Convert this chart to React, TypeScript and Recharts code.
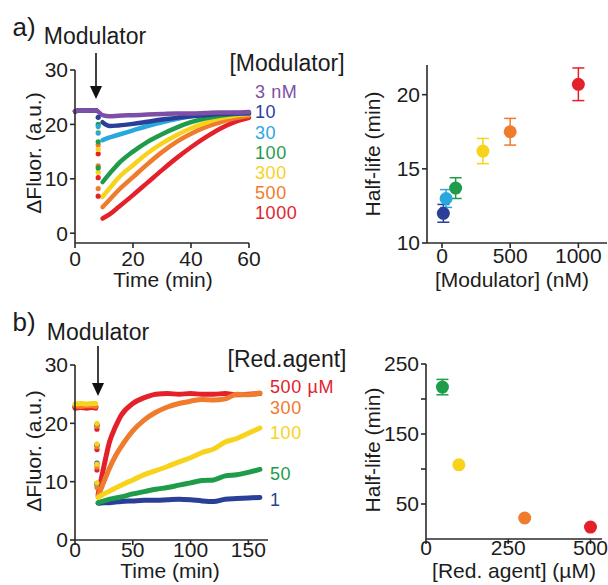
import React from 'react'
import { ComposedChart, ScatterChart, Line, Scatter, XAxis, YAxis, ErrorBar } from 'recharts'

const FONT = '"Liberation Sans", Arial, Helvetica, sans-serif'
const AXIS = '#2a2a2a'
const INK = '#1c1c1c'

const PURPLE = '#7d4fa6'
const NAVY = '#2a3f98'
const SKY = '#29a8e0'
const GREEN = '#1f9c4a'
const YELLOW = '#f7d31c'
const ORANGE = '#ef7b2c'
const RED = '#e4212b'

// ---- a) kinetics, modulator titration ----
const modLabels = ['3 nM', '10', '30', '100', '300', '500', '1000']
const modColors = [PURPLE, NAVY, SKY, GREEN, YELLOW, ORANGE, RED]

const baseTimeA = [0, 2, 4, 6, 7.5]
const baseA = [22.4, 22.6, 22.5, 22.6, 22.5]
const dropTimeA = 8
const recTimeA = [9.5, 12, 15, 20, 25, 30, 35, 40, 45, 50, 55, 60]
const recA3 = [21.7, 21.5, 21.6, 21.7, 21.8, 21.9, 22.0, 22.0, 22.1, 22.2, 22.2, 22.3]
const recA10 = [20.4, 19.7, 19.8, 20.1, 20.5, 20.9, 21.2, 21.5, 21.7, 21.9, 22.0, 22.1]
const recA30 = [17.1, 17.6, 18.1, 18.9, 19.7, 20.4, 21.0, 21.5, 21.8, 22.0, 22.1, 22.1]
const recA100 = [9.4, 11.0, 12.8, 15.0, 16.8, 18.2, 19.4, 20.4, 21.1, 21.6, 21.9, 22.0]
const recA300 = [6.7, 8.3, 10.2, 12.5, 14.7, 16.5, 18.0, 19.3, 20.3, 21.1, 21.6, 21.9]
const recA500 = [4.8, 6.2, 7.9, 10.3, 12.7, 14.9, 16.8, 18.3, 19.5, 20.4, 21.1, 21.6]
const recA1000 = [2.7, 3.5, 4.8, 7.0, 9.3, 11.6, 13.8, 15.8, 17.6, 19.2, 20.4, 21.2]
const dropA10 = [21.3]
const dropA30 = [19.6, 18.4]
const dropA100 = [20.0, 16.8, 12.0]
const dropA300 = [18.6, 15.4, 11.2]
const dropA500 = [16.2, 12.4, 8.2]
const dropA1000 = [14.6, 10.2, 6.8]

// ---- a) half-life vs modulator ----
const hlModConc = [10, 30, 100, 300, 500, 1000]
const hlModValue = [12.0, 13.0, 13.7, 16.2, 17.5, 20.7]
const hlModErr = [0.6, 0.6, 0.7, 0.85, 0.9, 1.1]
const hlModColors = [NAVY, SKY, GREEN, YELLOW, ORANGE, RED]

// ---- b) kinetics, reducing agent titration ----
const redLabels = ['500 \u00b5M', '300', '100', '50', '1']
const redColors = [RED, ORANGE, YELLOW, GREEN, NAVY]

const baseTimeB = [0, 5, 10, 15, 18]
const baseB500 = [22.6, 22.7, 22.6, 22.7, 22.6]
const baseB300 = [23.0, 22.9, 23.0, 23.0, 22.9]
const baseB100 = [23.3, 23.4, 23.3, 23.4, 23.4]
const baseB50 = [22.9, 22.9, 23.0, 22.9, 22.9]
const baseB1 = [22.8, 22.8, 22.7, 22.8, 22.8]
const dropTimeB = 19
const recTimeB = [20, 25, 30, 35, 40, 50, 60, 70, 80, 90, 100, 110, 120, 130, 140, 150, 160]
const recB500 = [7.8, 12.6, 16.9, 19.4, 21.4, 23.4, 24.4, 25.0, 25.1, 25.0, 25.1, 25.0, 25.0, 25.1, 24.9, 25.0, 25.1]
const recB300 = [7.5, 10.0, 12.4, 14.4, 16.0, 18.7, 20.6, 21.9, 22.8, 23.4, 23.8, 24.1, 24.0, 24.2, 25.0, 24.9, 25.2]
const recB100 = [7.3, 7.9, 8.4, 8.9, 9.4, 10.3, 11.2, 11.9, 12.6, 13.4, 14.1, 15.0, 15.6, 16.8, 17.4, 18.3, 19.2]
const recB50 = [6.4, 6.7, 7.0, 7.2, 7.4, 7.9, 8.3, 8.7, 9.0, 9.4, 9.8, 10.2, 10.3, 11.0, 11.2, 11.6, 12.1]
const recB1 = [6.3, 6.4, 6.4, 6.5, 6.6, 6.7, 6.8, 6.8, 6.9, 7.0, 6.9, 6.7, 6.6, 7.0, 7.1, 7.2, 7.3]
const dropB500 = [19.0, 15.5, 12.0]
const dropB300 = [19.5, 16.0, 12.5, 9.0]
const dropB100 = [20.0, 16.5, 13.0, 9.8]
const dropB50 = [19.8, 16.2, 13.0, 9.5]
const dropB1 = [19.6, 16.3, 13.2, 9.7]

// ---- b) half-life vs reducing agent ----
const hlRedConc = [50, 100, 300, 500]
const hlRedValue = [217, 106, 30, 17]
const hlRedErr = [11, 0, 0, 0]
const hlRedColors = [GREEN, YELLOW, ORANGE, RED]

type Pt = { t: number; v: number | null }
const pts = (ts: number[], vs: number[]): Pt[] => ts.map((t, i) => ({ t, v: vs[i] }))
const gapped = (bt: number[], bv: number[], rt: number[], rv: number[]): Pt[] => [
  ...pts(bt, bv),
  { t: (bt[bt.length - 1] + rt[0]) / 2, v: null },
  ...pts(rt, rv),
]

const seriesA = [
  { color: RED, data: gapped(baseTimeA, baseA, recTimeA, recA1000), drop: dropA1000 },
  { color: ORANGE, data: gapped(baseTimeA, baseA, recTimeA, recA500), drop: dropA500 },
  { color: YELLOW, data: gapped(baseTimeA, baseA, recTimeA, recA300), drop: dropA300 },
  { color: GREEN, data: gapped(baseTimeA, baseA, recTimeA, recA100), drop: dropA100 },
  { color: SKY, data: gapped(baseTimeA, baseA, recTimeA, recA30), drop: dropA30 },
  { color: NAVY, data: gapped(baseTimeA, baseA, recTimeA, recA10), drop: dropA10 },
  { color: PURPLE, data: [...pts(baseTimeA, baseA), ...pts(recTimeA, recA3)], drop: [] as number[] },
]

const seriesB = [
  { color: NAVY, data: gapped(baseTimeB, baseB1, recTimeB, recB1), drop: dropB1 },
  { color: GREEN, data: gapped(baseTimeB, baseB50, recTimeB, recB50), drop: dropB50 },
  { color: RED, data: gapped(baseTimeB, baseB500, recTimeB, recB500), drop: dropB500 },
  { color: ORANGE, data: gapped(baseTimeB, baseB300, recTimeB, recB300), drop: dropB300 },
  { color: YELLOW, data: gapped(baseTimeB, baseB100, recTimeB, recB100), drop: dropB100 },
]

const tickStyle = { fontSize: 21, fill: INK, fontFamily: FONT }
const axisLine = { stroke: AXIS, strokeWidth: 1.6 }
const LABEL_SIZE = 18

const Txt = ({ x, y, size, color = INK, rotate = false, left = false, lh = 1, ls = 0, children }: any) => (
  <div
    style={{
      position: 'absolute',
      left: x,
      top: y,
      fontSize: size,
      lineHeight: lh,
      letterSpacing: ls,
      color,
      whiteSpace: 'nowrap',
      transform: left ? 'translate(0,-50%)' : rotate ? 'translate(-50%,-50%) rotate(-90deg)' : 'translate(-50%,-50%)',
    }}
  >
    {children}
  </div>
)

// stacked, coloured concentration labels drawn as one text block
const Stack = ({ x, top, lineH, labels, colors }: any) => (
  <div style={{ position: 'absolute', left: x, top, fontSize: LABEL_SIZE, letterSpacing: 0.6, lineHeight: `${lineH}px`, whiteSpace: 'nowrap' }}>
    {labels.map((l: string, i: number) => (
      <React.Fragment key={l}>
        <span style={{ color: colors[i] }}>{l}</span>
        {i < labels.length - 1 ? <br /> : null}
      </React.Fragment>
    ))}
  </div>
)

const Kinetics = ({ series, dropT, xDomain, xTicks, yDomain, width, height, margin, xHeight, tickMargin, lw }: any) => (
  <ComposedChart width={width} height={height} margin={margin}>
    <XAxis
      type="number"
      dataKey="t"
      domain={xDomain}
      ticks={xTicks}
      interval={0}
      height={xHeight}
      tick={tickStyle}
      tickSize={5}
      tickMargin={tickMargin}
      axisLine={axisLine}
      tickLine={axisLine}
    />
    <YAxis
      type="number"
      domain={yDomain}
      ticks={[0, 10, 20, 30]}
      interval={0}
      width={75}
      tick={tickStyle}
      tickSize={5}
      tickMargin={2}
      axisLine={axisLine}
      tickLine={axisLine}
    />
    {series.map((s: any, i: number) => (
      <Line
        key={'l' + i}
        data={s.data}
        dataKey="v"
        type="monotone"
        stroke={s.color}
        strokeWidth={lw}
        strokeLinecap="round"
        dot={false}
        isAnimationActive={false}
      />
    ))}
    {series.map((s: any, i: number) => (
      <Scatter
        key={'d' + i}
        data={s.drop.map((v: number) => ({ t: dropT, v }))}
        dataKey="v"
        fill={s.color}
        shape={(p: any) => <circle cx={p.cx} cy={p.cy} r={2.6} fill={s.color} />}
        isAnimationActive={false}
      />
    ))}
  </ComposedChart>
)

const HalfLife = ({ conc, value, err, colors, xDomain, xTicks, yDomain, yTicks, yFmt, width, height, margin, xHeight, yWidth, tickMargin }: any) => (
  <ScatterChart width={width} height={height} margin={margin}>
    <XAxis
      type="number"
      dataKey="c"
      domain={xDomain}
      ticks={xTicks}
      interval={0}
      height={xHeight}
      tick={tickStyle}
      tickSize={5}
      tickMargin={tickMargin}
      axisLine={axisLine}
      tickLine={axisLine}
    />
    <YAxis
      type="number"
      dataKey="h"
      domain={yDomain}
      ticks={yTicks}
      interval={0}
      width={yWidth}
      tick={tickStyle}
      tickFormatter={yFmt}
      tickSize={5}
      tickMargin={2}
      axisLine={axisLine}
      tickLine={axisLine}
    />
    {conc.map((c: number, i: number) => (
      <Scatter
        key={i}
        data={[{ c, h: value[i], e: err[i] }]}
        fill={colors[i]}
        shape={(p: any) => <circle cx={p.cx} cy={p.cy} r={6.5} fill={colors[i]} />}
        isAnimationActive={false}
      >
        <ErrorBar dataKey="e" direction="y" width={6} stroke={colors[i]} strokeWidth={1.5} />
      </Scatter>
    ))}
  </ScatterChart>
)

const Arrow = ({ x, y1, y2 }: { x: number; y1: number; y2: number }) => (
  <g>
    <line x1={x} y1={y1} x2={x} y2={y2 - 10} stroke="#111" strokeWidth={1.6} />
    <polygon points={`${x - 6},${y2 - 13} ${x + 6},${y2 - 13} ${x},${y2}`} fill="#111" />
  </g>
)

export default function App() {
  return (
    <div style={{ position: 'absolute', left: 0, top: 0, width: 608, height: 585, background: '#fff', fontFamily: FONT, overflow: 'hidden' }}>
      <div style={{ position: 'absolute', left: 0, top: 0 }}>
        <Kinetics
          series={seriesA}
          dropT={dropTimeA}
          xDomain={[0, 60]}
          xTicks={[0, 20, 40, 60]}
          yDomain={[-1.8, 30]}
          width={270}
          height={300}
          margin={{ top: 70, right: 21, bottom: 0, left: 0 }}
          xHeight={57}
          tickMargin={3}
          lw={4.5}
        />
      </div>
      <div style={{ position: 'absolute', left: 340, top: 0 }}>
        <HalfLife
          conc={hlModConc}
          value={hlModValue}
          err={hlModErr}
          colors={hlModColors}
          xDomain={[-110, 1210]}
          xTicks={[0, 500, 1000]}
          yDomain={[10, 22]}
          yTicks={[10, 15, 20]}
          width={268}
          height={300}
          margin={{ top: 65, right: 1, bottom: 0, left: 0 }}
          xHeight={57}
          yWidth={87}
          tickMargin={0}
        />
      </div>
      <div style={{ position: 'absolute', left: 0, top: 300 }}>
        <Kinetics
          series={seriesB}
          dropT={dropTimeB}
          xDomain={[0, 167]}
          xTicks={[0, 50, 100, 150]}
          yDomain={[0, 30]}
          width={290}
          height={285}
          margin={{ top: 65, right: 22, bottom: 0, left: 0 }}
          xHeight={45}
          tickMargin={-3}
          lw={5}
        />
      </div>
      <div style={{ position: 'absolute', left: 340, top: 300 }}>
        <HalfLife
          conc={hlRedConc}
          value={hlRedValue}
          err={hlRedErr}
          colors={hlRedColors}
          xDomain={[0, 535]}
          xTicks={[0, 250, 500]}
          yDomain={[0, 250]}
          yTicks={[50, 100, 150, 200, 250]}
          yFmt={(v: number) => (v === 100 || v === 200 ? '' : String(v))}
          width={268}
          height={285}
          margin={{ top: 64, right: 6, bottom: 0, left: 0 }}
          xHeight={46}
          yWidth={86}
          tickMargin={-4}
        />
      </div>

      <svg width={608} height={585} style={{ position: 'absolute', left: 0, top: 0, pointerEvents: 'none' }}>
        <Arrow x={96} y1={53} y2={99} />
        <Arrow x={98} y1={346} y2={396} />
      </svg>

      <Txt x={24} y={27} size={26}>a)</Txt>
      <Txt x={95} y={36} size={23}>Modulator</Txt>
      <Txt x={24} y={322} size={26}>b)</Txt>
      <Txt x={98} y={332} size={23}>Modulator</Txt>

      <Txt x={287} y={63} size={23}>[Modulator]</Txt>
      <Stack x={255} top={82.2} lineH={20.2} labels={modLabels} colors={modColors} />
      <Txt x={287} y={359} size={23}>[Red.agent]</Txt>
      <Stack x={270} top={377.4} lineH={20.2} labels={redLabels.slice(0, 2)} colors={redColors.slice(0, 2)} />
      {redLabels.slice(2).map((l, i) => (
        <Txt key={l} x={270} y={[433, 474, 500][i]} size={LABEL_SIZE} ls={0.6} color={redColors[i + 2]} left lh={0.8}>
          {l}
        </Txt>
      ))}

      <Txt x={33} y={153} size={21} rotate>{'\u0394Fluor. (a.u.)'}</Txt>
      <Txt x={163} y={280} size={21} lh={0.85}>Time (min)</Txt>
      <Txt x={33} y={451} size={21} rotate>{'\u0394Fluor. (a.u.)'}</Txt>
      <Txt x={170} y={571} size={21} lh={0.85}>Time (min)</Txt>

      <Txt x={372} y={154} size={21} rotate>Half-life (min)</Txt>
      <Txt x={512} y={280} size={21} lh={0.85}>[Modulator] (nM)</Txt>
      <Txt x={372} y={450} size={21} rotate>Half-life (min)</Txt>
      <Txt x={514} y={571} size={21} lh={0.8}>{'[Red. agent] (\u00b5M)'}</Txt>
    </div>
  )
}
